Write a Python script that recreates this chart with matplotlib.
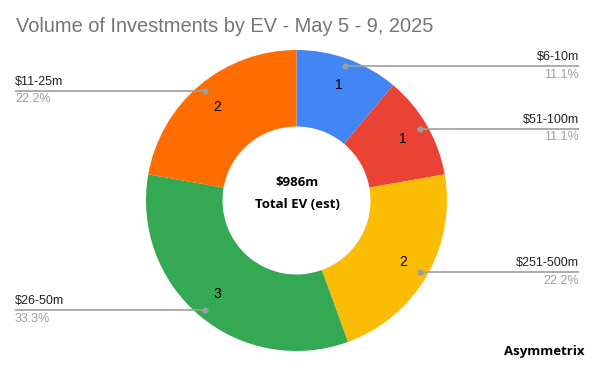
import numpy as np
import matplotlib
matplotlib.use("Agg")
import matplotlib.pyplot as plt

categories = ["$6-10m", "$51-100m", "$251-500m", "$26-50m", "$11-25m"]
counts = [1, 1, 2, 3, 2]
colors = ["#4285F4", "#EA4335", "#FBBC04", "#34A853", "#FF6D01"]
title = "Volume of Investments by EV - May 5 - 9, 2025"
center_value = "$986m"
center_label = "Total EV (est)"
source = "Asymmetrix"

W, H = 594, 370
fig = plt.figure(figsize=(W / 100, H / 100), dpi=100)
ax = fig.add_axes([0, 0, 1, 1])

cx, cy = 296.5, H - 200.5
R = 150.5
ring = 76.5

wedges, texts = ax.pie(
    counts, colors=colors, startangle=90, counterclock=False,
    radius=R, center=(cx, cy), labels=[str(c) for c in counts],
    labeldistance=0.815, wedgeprops=dict(width=ring, linewidth=0),
    textprops=dict(fontsize=10, color="#000000", family="Liberation Sans"),
)
for t in texts:
    t.set_ha("center")
    t.set_va("center")

ax.set_xlim(0, W)
ax.set_ylim(0, H)
ax.set_aspect("equal")
ax.axis("off")

total = sum(counts)
line_color = "#9E9E9E"
for w, cat, c in zip(wedges, categories, counts):
    mid = np.deg2rad((w.theta1 + w.theta2) / 2)
    px = cx + 143 * np.cos(mid)
    py = cy + 143 * np.sin(mid)
    pct = f"{100 * c / total:.1f}%"
    if np.cos(mid) >= 0:
        xe = 579
        ha = "right"
    else:
        xe = 15
        ha = "left"
    ax.plot([px, xe], [py, py], color=line_color, lw=1.2, solid_capstyle="butt", zorder=3)
    ax.plot([px], [py], "o", color=line_color, ms=3.5, zorder=4)
    ax.text(xe, py + 3, cat, ha=ha, va="bottom", fontsize=9,
            color="#222222", family="Liberation Sans")
    ax.text(xe, py - 2.5, pct, ha=ha, va="top", fontsize=9,
            color="#9E9E9E", family="Liberation Sans")

ax.text(cx + 1, H - 183, center_value, ha="center", va="center", fontsize=9.5,
        fontweight="bold", family="Open Sans", color="#000000")
ax.text(cx + 1, H - 205, center_label, ha="center", va="center", fontsize=9.5,
        fontweight="bold", family="Open Sans", color="#000000")

ax.text(16, H - 27, title, ha="left", va="center", fontsize=14.4,
        color="#757575", family="Liberation Sans")
ax.text(585, H - 352, source, ha="right", va="center", fontsize=9.5,
        fontweight="bold", family="Open Sans", color="#000000")

fig.savefig("out.png", dpi=100)
